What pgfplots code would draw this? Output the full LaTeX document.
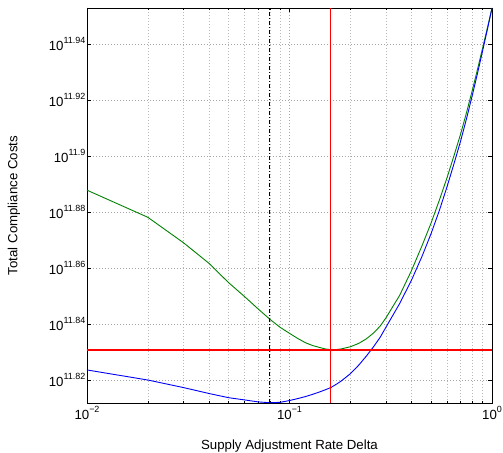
\documentclass[border=0pt]{standalone}
\usepackage{fontspec}
\setmainfont{Liberation Sans}
\usepackage{pgfplots}
\pgfplotsset{compat=1.18}
\definecolor{mgreen}{rgb}{0,0.5,0}
\definecolor{mblue}{rgb}{0,0,1}
\definecolor{mred}{rgb}{1,0,0}
\newcommand{\tp}[1]{10\raisebox{0.55em}{\fontsize{9}{9}\selectfont #1}}
\newcommand{\labfont}{\fontsize{13.3}{16}\selectfont}

\begin{document}
\labfont
\begin{tikzpicture}
\begin{axis}[
    at={(0,0)}, anchor=south west,
    scale only axis, width=405bp, height=395bp,
    xmode=log, xmin=0.01, xmax=1,
    ymin=11.8118, ymax=11.95286,
    xtick={0.01,0.1,1},
    xticklabels={\tp{−2},\tp{−1},\tp{0}},
    ytick={11.82,11.84,11.86,11.88,11.90,11.92,11.94},
    yticklabels={\tp{11.82},\tp{11.84},\tp{11.86},\tp{11.88},\tp{11.9},\tp{11.92},\tp{11.94}},
    xmajorgrids, xminorgrids, ymajorgrids,
    major grid style={gray!70, line width=0.5bp, dash pattern=on 1bp off 2bp},
    minor grid style={gray!55, line width=0.5bp, dash pattern=on 1bp off 2bp},
    tick align=inside,
    major tick length=4.5bp, minor tick length=2.5bp,
    tick style={black, line width=0.6bp},
    axis line style={black, line width=0.9bp},
    tick label style={font=\labfont},
    yticklabel style={inner sep=1.5bp},
    xticklabel style={inner sep=3bp},
    label style={font=\labfont},
    xlabel={Supply Adjustment Rate Delta},
    ylabel={Total Compliance Costs},
    xlabel style={at={(axis description cs:0.5,-0.1165)}, anchor=base},
    ylabel style={at={(axis description cs:-0.172,0.5)}, anchor=base, rotate=0},
]
% green curve
\addplot[mgreen, line width=0.9bp] coordinates {
(0.01,11.8878) (0.02,11.8781) (0.03,11.8690) (0.04,11.8617) (0.05,11.8548)
(0.06,11.8498) (0.07,11.8454) (0.08,11.8417) (0.09,11.8388) (0.10,11.83668)
(0.11,11.83482) (0.12,11.83332) (0.13,11.83232) (0.14,11.83168) (0.15,11.83111)
(0.16,11.83082) (0.17,11.83089) (0.18,11.83111) (0.20,11.83189) (0.22,11.83311)
(0.24,11.83475) (0.26,11.83679) (0.28,11.83921) (0.30,11.84229) (0.35,11.85025)
(0.40,11.85904) (0.45,11.86775) (0.50,11.87604) (0.55,11.88429) (0.60,11.89229)
(0.65,11.90025) (0.70,11.90786) (0.75,11.91571) (0.80,11.92357) (0.85,11.93125)
(0.90,11.93875) (0.95,11.94589) (1.00,11.95286)};
% blue curve
\addplot[mblue, line width=0.9bp] coordinates {
(0.01,11.8236) (0.02,11.8200) (0.03,11.8173) (0.04,11.8152) (0.05,11.8137)
(0.06,11.8129) (0.07,11.8122) (0.08,11.81189) (0.09,11.81204) (0.10,11.81268)
(0.11,11.81339) (0.12,11.81411) (0.13,11.81489) (0.14,11.81568) (0.15,11.8165)
(0.16,11.81732) (0.17,11.81846) (0.18,11.81964) (0.20,11.82229) (0.22,11.82536)
(0.24,11.82861) (0.26,11.83189) (0.28,11.83521) (0.30,11.83896) (0.35,11.84732)
(0.40,11.85561) (0.45,11.86396) (0.50,11.87225) (0.55,11.88061) (0.60,11.88907)
(0.65,11.89739) (0.70,11.90536) (0.75,11.91357) (0.80,11.92179) (0.85,11.92982)
(0.90,11.93775) (0.95,11.94536) (1.00,11.95286)};
% optimum lines
\addplot[draw=mred, line width=1.6bp] coordinates {(0.01,11.83082) (1,11.83082)};
\addplot[draw=mred, line width=0.8bp] coordinates {(0.16,11.8118) (0.16,11.95286)};
\addplot[draw=black, line width=0.9bp, dash pattern=on 4bp off 2bp on 1bp off 2bp] coordinates {(0.08,11.8118) (0.08,11.95286)};
\end{axis}
\pgfresetboundingbox
\path[use as bounding box] (-87bp,-50bp) rectangle (416bp,403bp);
\end{tikzpicture}
\end{document}
